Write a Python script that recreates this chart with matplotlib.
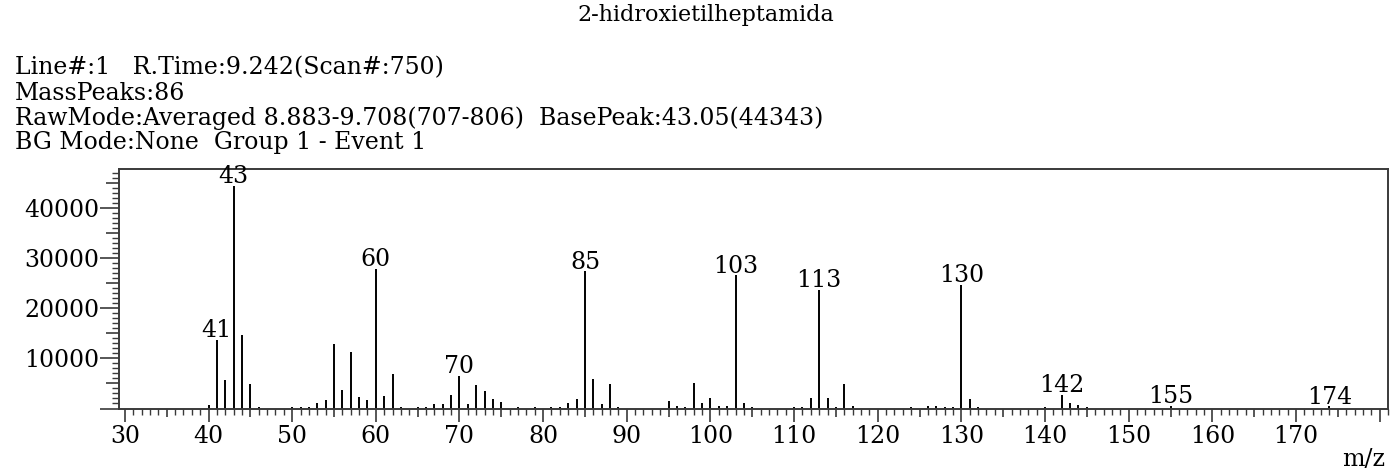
import matplotlib
matplotlib.use("Agg")
import matplotlib.pyplot as plt
from matplotlib.ticker import FixedLocator, MultipleLocator

# ---- data ----
mz = [40, 41, 42, 43, 44, 45, 46, 50, 51, 52, 53, 54, 55, 56, 57, 58, 59, 60,
      61, 62, 63, 65, 66, 67, 68, 69, 70, 71, 72, 73, 74, 75, 77, 79, 81, 82,
      83, 84, 85, 86, 87, 88, 89, 95, 96, 97, 98, 99, 100, 101, 102, 103, 104,
      105, 110, 111, 112, 113, 114, 115, 116, 117, 124, 126, 127, 128, 129,
      130, 131, 132, 140, 142, 143, 144, 145, 155, 174]
intensity = [600, 13600, 5600, 44343, 14600, 4800, 300, 300, 300, 300, 1100,
             1600, 12800, 3600, 11200, 2200, 1600, 27800, 2400, 6800, 300, 300,
             300, 800, 800, 2600, 6500, 900, 4600, 3500, 1800, 1300, 300, 300,
             300, 300, 1100, 1800, 27300, 5800, 900, 4800, 300, 1500, 500, 300,
             5000, 1100, 2100, 500, 500, 26500, 1100, 300, 300, 300, 2100,
             23600, 2100, 300, 4900, 500, 300, 500, 500, 300, 300, 24600, 1800,
             300, 300, 2700, 1000, 700, 300, 500, 400]
labeled_peaks = [41, 43, 60, 70, 85, 103, 113, 130, 142, 155, 174]
x_tick_labels = ["30", "40", "50", "60", "70", "80", "90", "100", "110", "120",
                 "130", "140", "150", "160", "170", ""]
y_tick_labels = ["10000", "20000", "30000", "40000"]

title = "2-hidroxietilheptamida"
header_lines = [
    "Line#:1   R.Time:9.242(Scan#:750)",
    "MassPeaks:86",
    "RawMode:Averaged 8.883-9.708(707-806)  BasePeak:43.05(44343)",
    "BG Mode:None  Group 1 - Event 1",
]

W, H = 1395, 472
FONT = "DejaVu Serif"
plt.rcParams["font.family"] = [FONT]
NUM_FS = 17

fig = plt.figure(figsize=(W / 100, H / 100), dpi=100)
ax = fig.add_axes([119 / W, 1 - 408.5 / H, (1388 - 119) / W, (408.5 - 169) / H])

ax.vlines(mz, 0, intensity, color="black", lw=1.4)

lookup = dict(zip(mz, intensity))
for m in labeled_peaks:
    ax.annotate(str(m), (m, lookup[m]), xytext=(0, -1.5), textcoords="offset points",
                ha="center", va="bottom", fontsize=NUM_FS, color="black")

ax.set_xlim(29.3, 181.0)
ax.set_ylim(0, 47700)

spine_c = "#3a3a3a"
for s in ax.spines.values():
    s.set_color(spine_c)
    s.set_linewidth(1.4)

# x ticks: major every 5 (labels at 10s), minor every 1
xmaj = list(range(30, 181, 5))
ax.xaxis.set_major_locator(FixedLocator(xmaj))
ax.xaxis.set_minor_locator(MultipleLocator(1))
xlab_iter = iter(x_tick_labels)
ax.set_xticklabels([next(xlab_iter) if v % 10 == 0 else "" for v in xmaj])

ymaj = list(range(0, 47001, 5000))
ax.yaxis.set_major_locator(FixedLocator(ymaj))
ax.yaxis.set_minor_locator(MultipleLocator(1000))
ylab_iter = iter(y_tick_labels)
ax.set_yticklabels([next(ylab_iter) if (v % 10000 == 0 and v > 0) else "" for v in ymaj])

ax.tick_params(axis="x", which="major", direction="out", length=9.4, width=1.2,
               color=spine_c, labelsize=NUM_FS, pad=2.5)
ax.tick_params(axis="x", which="minor", direction="out", length=4.3, width=1.0,
               color=spine_c)
ax.tick_params(axis="y", which="major", direction="out", length=14, width=1.2,
               color=spine_c, labelsize=NUM_FS, pad=0)
ax.tick_params(axis="y", which="minor", direction="out", length=5, width=1.0,
               color=spine_c)

for t, v in zip(ax.xaxis.get_major_ticks(), xmaj):
    if v % 10 != 0:
        t.tick1line.set_markersize(6)
for t, v in zip(ax.yaxis.get_major_ticks(), ymaj):
    if v % 10000 != 0:
        t.tick1line.set_markersize(9.4)

fig.text(1364 / W, 1 - 460 / H, "m/z", ha="center", va="center", fontsize=NUM_FS)
fig.text(706 / W, 1 - 15 / H, title, ha="center", va="center", fontsize=16)
for i, line in enumerate(header_lines):
    fig.text(15 / W, 1 - (68 + 25 * i) / H, line, ha="left", va="center", fontsize=17)

fig.savefig("out.png", dpi=100)
